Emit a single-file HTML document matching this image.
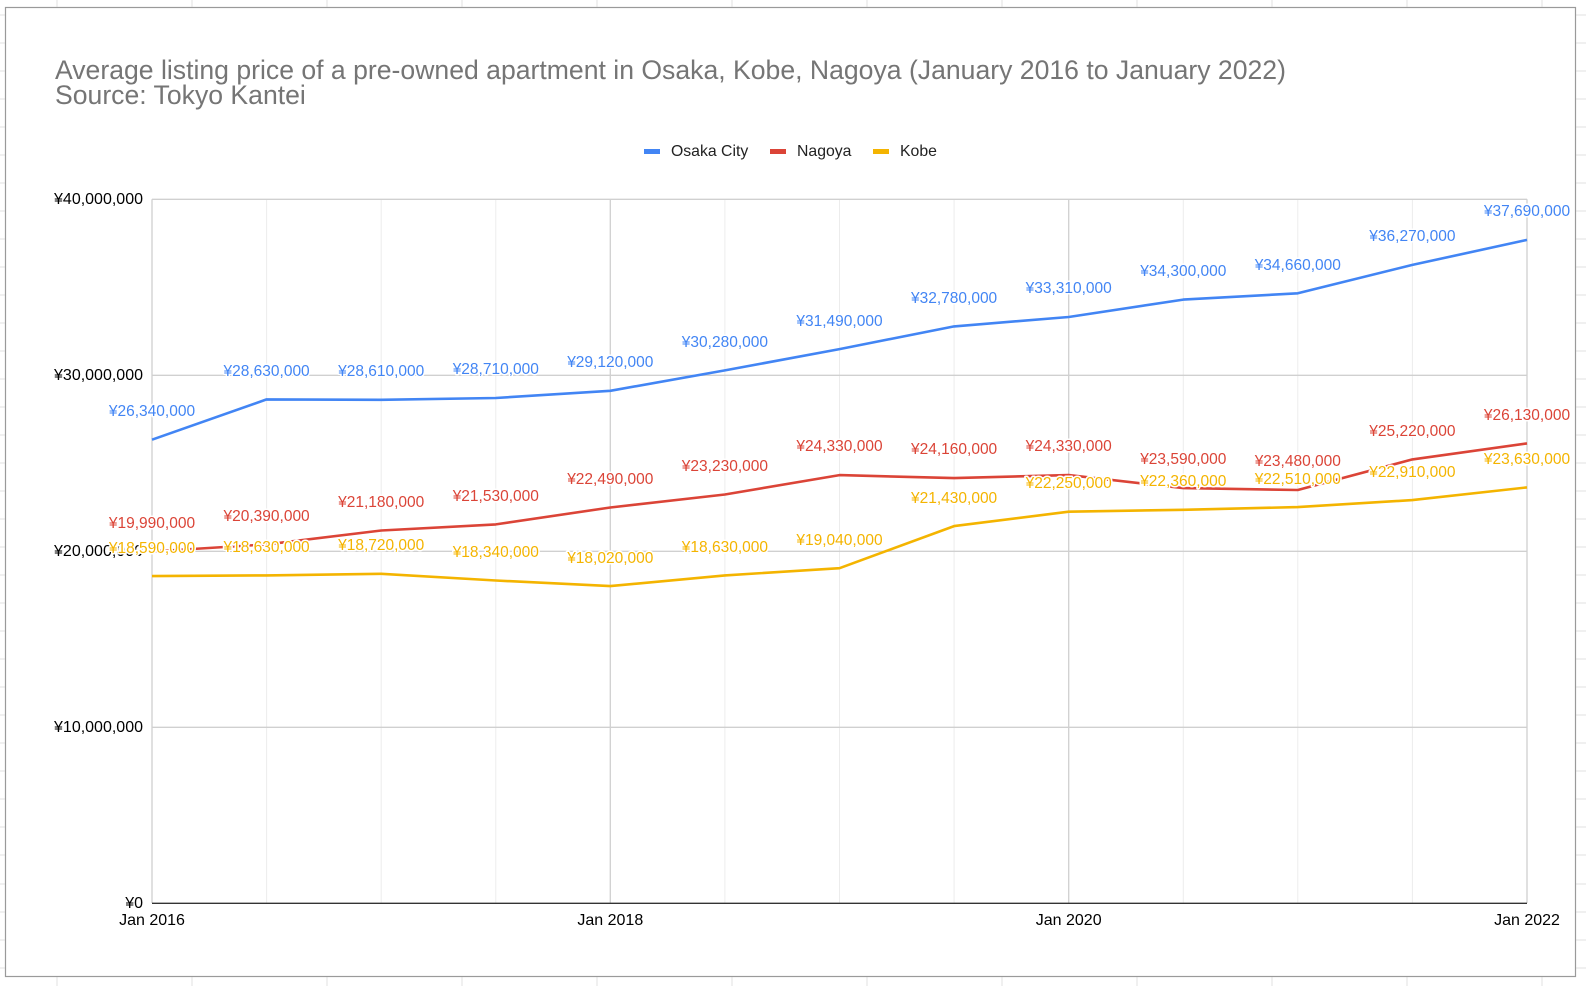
<!DOCTYPE html>
<html><head><meta charset="utf-8"><style>
html,body{margin:0;padding:0;background:#fff;}
svg{display:block;font-family:"Liberation Sans",Arial,sans-serif;}
.v text{font-size:15.5px;text-anchor:middle;paint-order:stroke;stroke:#fff;stroke-width:3px;stroke-linejoin:round;}
</style></head><body>
<svg width="1586" height="986" viewBox="0 0 1586 986" xmlns="http://www.w3.org/2000/svg">
<g stroke="#e2e2e2" stroke-width="1">
<line x1="57" y1="0" x2="57" y2="986"/><line x1="192" y1="0" x2="192" y2="986"/><line x1="327" y1="0" x2="327" y2="986"/><line x1="462" y1="0" x2="462" y2="986"/><line x1="597" y1="0" x2="597" y2="986"/><line x1="732" y1="0" x2="732" y2="986"/><line x1="867" y1="0" x2="867" y2="986"/><line x1="1002" y1="0" x2="1002" y2="986"/><line x1="1137" y1="0" x2="1137" y2="986"/><line x1="1272" y1="0" x2="1272" y2="986"/><line x1="1407" y1="0" x2="1407" y2="986"/><line x1="1542" y1="0" x2="1542" y2="986"/>
<line x1="0" y1="15" x2="1586" y2="15"/><line x1="0" y1="43" x2="1586" y2="43"/><line x1="0" y1="71" x2="1586" y2="71"/><line x1="0" y1="99" x2="1586" y2="99"/><line x1="0" y1="127" x2="1586" y2="127"/><line x1="0" y1="155" x2="1586" y2="155"/><line x1="0" y1="183" x2="1586" y2="183"/><line x1="0" y1="211" x2="1586" y2="211"/><line x1="0" y1="239" x2="1586" y2="239"/><line x1="0" y1="267" x2="1586" y2="267"/><line x1="0" y1="295" x2="1586" y2="295"/><line x1="0" y1="323" x2="1586" y2="323"/><line x1="0" y1="351" x2="1586" y2="351"/><line x1="0" y1="379" x2="1586" y2="379"/><line x1="0" y1="407" x2="1586" y2="407"/><line x1="0" y1="435" x2="1586" y2="435"/><line x1="0" y1="463" x2="1586" y2="463"/><line x1="0" y1="491" x2="1586" y2="491"/><line x1="0" y1="519" x2="1586" y2="519"/><line x1="0" y1="547" x2="1586" y2="547"/><line x1="0" y1="575" x2="1586" y2="575"/><line x1="0" y1="603" x2="1586" y2="603"/><line x1="0" y1="631" x2="1586" y2="631"/><line x1="0" y1="659" x2="1586" y2="659"/><line x1="0" y1="687" x2="1586" y2="687"/><line x1="0" y1="715" x2="1586" y2="715"/><line x1="0" y1="743" x2="1586" y2="743"/><line x1="0" y1="771" x2="1586" y2="771"/><line x1="0" y1="799" x2="1586" y2="799"/><line x1="0" y1="827" x2="1586" y2="827"/><line x1="0" y1="855" x2="1586" y2="855"/><line x1="0" y1="884" x2="1586" y2="884"/><line x1="0" y1="912" x2="1586" y2="912"/><line x1="0" y1="940" x2="1586" y2="940"/><line x1="0" y1="968" x2="1586" y2="968"/>
</g>
<rect x="5.5" y="7.5" width="1570" height="969" fill="#fff" stroke="#9a9a9a" stroke-width="1.2"/>
<text x="55" y="79" font-size="26.6" fill="#757575">Average listing price of a pre-owned apartment in Osaka, Kobe, Nagoya (January 2016 to January 2022)</text>
<text x="55" y="104" font-size="26.6" fill="#757575">Source: Tokyo Kantei</text>
<rect x="644" y="149" width="16" height="5" fill="#4285f4"/><text x="671" y="156" font-size="15.8" fill="#222">Osaka City</text>
<rect x="770" y="149" width="16" height="5" fill="#db4437"/><text x="797" y="156" font-size="15.8" fill="#222">Nagoya</text>
<rect x="873" y="149" width="16" height="5" fill="#f4b400"/><text x="900" y="156" font-size="15.8" fill="#222">Kobe</text>
<g stroke="#ececec" stroke-width="1">
<line x1="266.6" y1="199.3" x2="266.6" y2="903"/><line x1="381.2" y1="199.3" x2="381.2" y2="903"/><line x1="495.8" y1="199.3" x2="495.8" y2="903"/><line x1="724.9" y1="199.3" x2="724.9" y2="903"/><line x1="839.5" y1="199.3" x2="839.5" y2="903"/><line x1="954.1" y1="199.3" x2="954.1" y2="903"/><line x1="1183.3" y1="199.3" x2="1183.3" y2="903"/><line x1="1297.8" y1="199.3" x2="1297.8" y2="903"/><line x1="1412.4" y1="199.3" x2="1412.4" y2="903"/>
</g>
<g stroke="#d0d0d0" stroke-width="1.3">
<line x1="152" y1="199.3" x2="1527" y2="199.3"/><line x1="152" y1="375.3" x2="1527" y2="375.3"/><line x1="152" y1="551.3" x2="1527" y2="551.3"/><line x1="152" y1="727.3" x2="1527" y2="727.3"/>
<line x1="152" y1="199.3" x2="152" y2="903"/><line x1="610.3" y1="199.3" x2="610.3" y2="903"/><line x1="1068.7" y1="199.3" x2="1068.7" y2="903"/><line x1="1527" y1="199.3" x2="1527" y2="903"/>
</g>
<line x1="152" y1="903.3" x2="1527" y2="903.3" stroke="#333" stroke-width="1.3"/>
<g font-size="16" fill="#000" text-anchor="end">
<text x="143" y="204">¥40,000,000</text><text x="143" y="380">¥30,000,000</text><text x="143" y="556">¥20,000,000</text><text x="143" y="732">¥10,000,000</text><text x="143" y="908">¥0</text>
</g>
<g font-size="16" fill="#000" text-anchor="middle">
<text x="152" y="925">Jan 2016</text><text x="610.3" y="925">Jan 2018</text><text x="1068.7" y="925">Jan 2020</text><text x="1527" y="925">Jan 2022</text>
</g>
<g fill="none" stroke-width="2.6" stroke-linejoin="round">
<polyline stroke="#4285f4" points="152,439.7 266.6,399.4 381.2,399.8 495.8,398 610.3,390.8 724.9,370.4 839.5,349.1 954.1,326.4 1068.7,317 1183.3,299.6 1297.8,293.3 1412.4,264.9 1527,239.9"/>
<polyline stroke="#db4437" points="152,551.5 266.6,544.4 381.2,530.5 495.8,524.4 610.3,507.5 724.9,494.5 839.5,475.1 954.1,478.1 1068.7,475.1 1183.3,488.1 1297.8,490 1412.4,459.4 1527,443.4"/>
<polyline stroke="#f4b400" points="152,576.1 266.6,575.4 381.2,573.8 495.8,580.5 610.3,586.1 724.9,575.4 839.5,568.2 954.1,526.1 1068.7,511.7 1183.3,509.8 1297.8,507.1 1412.4,500.1 1527,487.4"/>
</g>
<g class="v" fill="#4285f4">
<text x="152" y="416">¥26,340,000</text><text x="266.6" y="376">¥28,630,000</text><text x="381.2" y="376">¥28,610,000</text><text x="495.8" y="374">¥28,710,000</text><text x="610.3" y="367">¥29,120,000</text><text x="724.9" y="347">¥30,280,000</text><text x="839.5" y="326">¥31,490,000</text><text x="954.1" y="303">¥32,780,000</text><text x="1068.7" y="293">¥33,310,000</text><text x="1183.3" y="276">¥34,300,000</text><text x="1297.8" y="270">¥34,660,000</text><text x="1412.4" y="241">¥36,270,000</text><text x="1527" y="216">¥37,690,000</text>
</g>
<g class="v" fill="#db4437">
<text x="152" y="528">¥19,990,000</text><text x="266.6" y="521">¥20,390,000</text><text x="381.2" y="507">¥21,180,000</text><text x="495.8" y="501">¥21,530,000</text><text x="610.3" y="484">¥22,490,000</text><text x="724.9" y="471">¥23,230,000</text><text x="839.5" y="451">¥24,330,000</text><text x="954.1" y="454">¥24,160,000</text><text x="1068.7" y="451">¥24,330,000</text><text x="1183.3" y="464">¥23,590,000</text><text x="1297.8" y="466">¥23,480,000</text><text x="1412.4" y="436">¥25,220,000</text><text x="1527" y="420">¥26,130,000</text>
</g>
<g class="v" fill="#f4b400">
<text x="152" y="553">¥18,590,000</text><text x="266.6" y="552">¥18,630,000</text><text x="381.2" y="550">¥18,720,000</text><text x="495.8" y="557">¥18,340,000</text><text x="610.3" y="563">¥18,020,000</text><text x="724.9" y="552">¥18,630,000</text><text x="839.5" y="545">¥19,040,000</text><text x="954.1" y="503">¥21,430,000</text><text x="1068.7" y="488">¥22,250,000</text><text x="1183.3" y="486">¥22,360,000</text><text x="1297.8" y="484">¥22,510,000</text><text x="1412.4" y="477">¥22,910,000</text><text x="1527" y="464">¥23,630,000</text>
</g>
</svg>
</body></html>
